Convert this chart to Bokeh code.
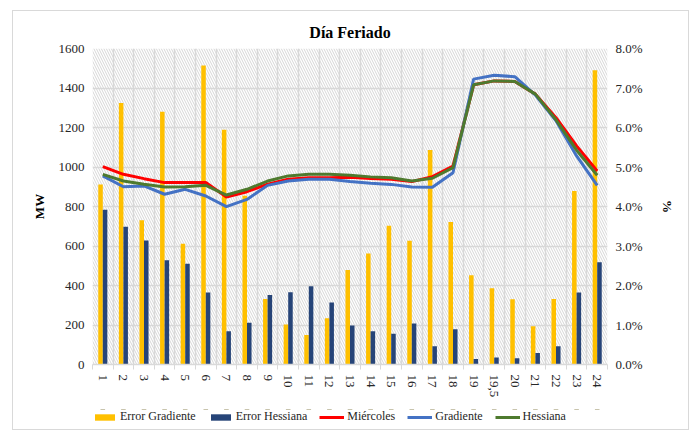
from bokeh.plotting import figure
from bokeh.models import (ColumnDataSource, LinearAxis, Range1d, FixedTicker,
                          PrintfTickFormatter, BoxAnnotation, Legend, LegendItem)
from bokeh.layouts import column
from bokeh.transform import dodge
from bokeh.embed import file_html
from bokeh.resources import INLINE

hours = ["1", "2", "3", "4", "5", "6", "7", "8", "9", "10", "11", "12", "13",
         "14", "15", "16", "17", "18", "19", "19,5", "20", "21", "22", "23", "24"]
err_grad = [4.56, 6.62, 3.65, 6.40, 3.06, 7.57, 5.94, 4.27, 1.66, 1.01, 0.75, 1.17, 2.39,
            2.81, 3.51, 3.13, 5.43, 3.61, 2.26, 1.93, 1.65, 0.97, 1.66, 4.39, 7.45]
err_hess = [3.92, 3.49, 3.14, 2.64, 2.55, 1.82, 0.84, 1.06, 1.76, 1.83, 1.98, 1.57, 0.99,
            0.84, 0.78, 1.04, 0.46, 0.89, 0.14, 0.18, 0.16, 0.29, 0.46, 1.82, 2.59]
miercoles = [1002, 963, 941, 921, 921, 921, 848, 875, 913, 938, 946, 946, 948,
             942, 938, 926, 951, 1004, 1416, 1436, 1433, 1369, 1250, 1107, 980]
gradiente = [955, 900, 904, 862, 887, 853, 799, 836, 907, 929, 938, 938, 926,
             918, 912, 899, 897, 971, 1445, 1465, 1457, 1364, 1234, 1056, 907]
hessiana = [963, 929, 913, 899, 900, 907, 858, 887, 929, 955, 963, 963, 958,
            950, 946, 929, 943, 997, 1416, 1436, 1433, 1369, 1239, 1085, 958]

series_names = ["Error Gradiente", "Error Hessiana", "Miércoles", "Gradiente", "Hessiana"]
colors = ["#FFC000", "#264478", "#FF0000", "#4472C4", "#4E7A2E"]

n = len(hours)
xs = list(range(1, n + 1))
src = ColumnDataSource(dict(x=xs, eg=err_grad, eh=err_hess, mi=miercoles,
                            gr=gradiente, he=hessiana))

FONT = "Liberation Serif"
GRID = "#d9d9d9"
TXT = "#262626"

p = figure(width=675, height=398, output_backend="svg", toolbar_location=None,
           x_range=Range1d(0.5, n + 0.5), y_range=Range1d(0, 1600),
           min_border_left=79, min_border_right=81, min_border_top=37,
           min_border_bottom=45, title="Día Feriado")
p.outline_line_color = None
p.background_fill_color = "white"

p.title.align = "center"
p.title.text_font = FONT
p.title.text_font_size = "16px"
p.title.text_font_style = "bold"
p.title.text_color = "#000000"
p.title.standoff = 15

p.extra_y_ranges = {"pct": Range1d(0, 8)}

# hatched plot background
p.add_layout(BoxAnnotation(fill_alpha=0, line_alpha=0, hatch_pattern="left_diagonal_line",
                           hatch_color="#d6d6d6", hatch_scale=5, hatch_weight=1,
                           level="underlay"))

# grids
p.xgrid.ticker = FixedTicker(ticks=[i + 0.5 for i in range(0, n + 1)])
p.ygrid.ticker = FixedTicker(ticks=list(range(0, 1601, 200)))
for g in (p.xgrid, p.ygrid):
    g.grid_line_color = GRID
    g.grid_line_width = 1.5

# x axis
xax = p.xaxis[0]
xax.ticker = FixedTicker(ticks=xs, minor_ticks=[i + 0.5 for i in range(0, n + 1)])
xax.major_label_overrides = {x: h for x, h in zip(xs, hours)}
xax.major_label_orientation = -1.5708
xax.major_tick_line_color = None
xax.major_tick_out = 0
xax.minor_tick_line_color = GRID
xax.minor_tick_out = 5
xax.minor_tick_in = 0
xax.axis_line_color = GRID
xax.axis_line_width = 1.5
xax.major_label_standoff = 5

# left axis
yl = p.yaxis[0]
yl.ticker = FixedTicker(ticks=list(range(0, 1601, 200)))
yl.axis_label = "MW"
yl.axis_label_standoff = 9

# right axis
yr = LinearAxis(y_range_name="pct", ticker=FixedTicker(ticks=list(range(0, 9))),
                formatter=PrintfTickFormatter(format="%.1f%%"), axis_label="%")
p.add_layout(yr, "right")
yr.axis_label_standoff = 14

for ax in (xax, yl, yr):
    ax.major_label_text_font = FONT
    ax.major_label_text_font_size = "13px"
    ax.major_label_text_color = TXT
    ax.axis_label_text_font = FONT
    ax.axis_label_text_font_size = "13px"
    ax.axis_label_text_font_style = "bold"
    ax.axis_label_text_color = "#000000"
for ax in (yl, yr):
    ax.axis_line_color = None
    ax.major_tick_line_color = None
    ax.major_tick_out = 0
    ax.minor_tick_line_color = None
    ax.minor_tick_out = 0
    ax.major_label_standoff = 8

# bars (percent axis)
bw = 0.22
p.vbar(x=dodge("x", -0.11), top="eg", width=bw, source=src, y_range_name="pct",
       fill_color=colors[0], line_color=None)
p.vbar(x=dodge("x", 0.11), top="eh", width=bw, source=src, y_range_name="pct",
       fill_color=colors[1], line_color=None)

# lines (MW axis)
p.line("x", "mi", source=src, line_color=colors[2], line_width=3)
p.line("x", "gr", source=src, line_color=colors[3], line_width=3)
p.line("x", "he", source=src, line_color=colors[4], line_width=3)

# legend strip below the chart: same series drawn on a range where they are out of view,
# only so that the legend can show their glyphs
pl = figure(width=675, height=20, output_backend="svg", toolbar_location=None,
            x_range=p.x_range, y_range=Range1d(-3, -2),
            x_axis_location=None, y_axis_location=None, min_border=0)
pl.outline_line_color = None
pl.grid.visible = False
lr = [pl.vbar(x="x", top="eg", bottom=0, width=bw, source=src, fill_color=colors[0], line_color=None),
      pl.vbar(x="x", top="eh", bottom=0, width=bw, source=src, fill_color=colors[1], line_color=None),
      pl.line("x", "mi", source=src, line_color=colors[2], line_width=3),
      pl.line("x", "gr", source=src, line_color=colors[3], line_width=3),
      pl.line("x", "he", source=src, line_color=colors[4], line_width=3)]
lg = Legend(items=[LegendItem(label=nm, renderers=[r]) for nm, r in zip(series_names, lr)])
lg.orientation = "horizontal"
lg.location = (0, 5)
lg.padding = 0
lg.margin = 0
lg.spacing = 12
lg.glyph_width = 25
lg.glyph_height = 8
lg.label_height = 14
lg.label_standoff = 3
lg.label_text_font = FONT
lg.label_text_font_size = "12px"
lg.label_text_color = TXT
lg.border_line_color = None
lg.background_fill_alpha = 0
pl.add_layout(lg, "center")

layout = column(p, pl, spacing=0)
layout.margin = (10, 0, 0, 12)
layout.styles = {"border": "1px solid #d9d9d9"}

open("out.html", "w").write(file_html(layout, INLINE))
